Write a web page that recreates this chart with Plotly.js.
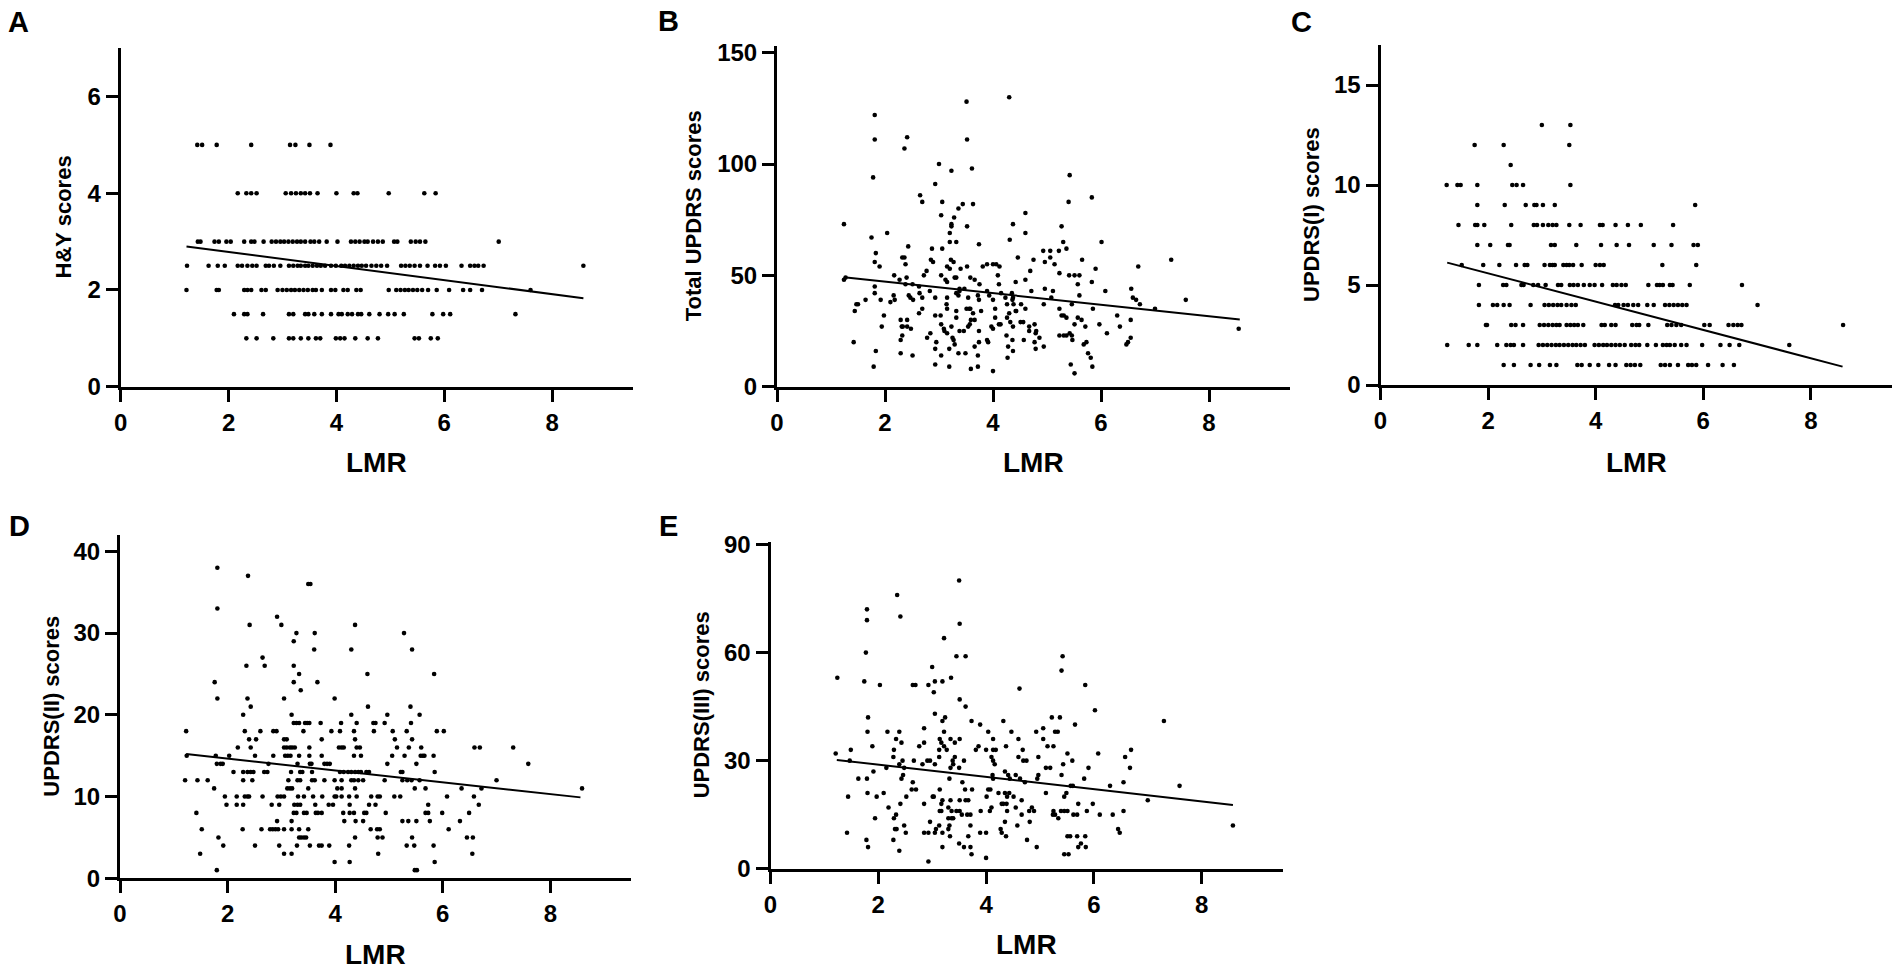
<!DOCTYPE html>
<html>
<head>
<meta charset="utf-8">
<script src="https://cdn.plot.ly/plotly-3.0.1.min.js"></script>
<style>
html,body{margin:0;padding:0;background:#fff;}
#chart{width:1902px;height:972px;}
</style>
</head>
<body>
<div id="chart"></div>
<script>
// ---------------- DATA ----------------
// Panel A: H&Y scores, rows of [score, [LMR values]]
const A_rows = [
  [5,   [1.42,1.51,1.78,2.42,3.14,3.24,3.50,3.89]],
  [4,   [2.17,2.33,2.42,2.52,3.06,3.16,3.25,3.34,3.42,3.51,3.65,4.00,4.32,4.39,4.97,5.63,5.84]],
  [3,   [1.43,1.48,1.74,1.82,1.96,2.04,2.29,2.42,2.48,2.65,2.80,2.88,2.96,3.03,3.11,3.19,3.27,3.34,3.42,3.52,3.59,3.68,3.82,4.02,4.27,4.35,4.43,4.52,4.58,4.68,4.77,4.86,5.07,5.13,5.38,5.47,5.55,5.65,7.01]],
  [2.5, [1.23,1.63,1.80,1.93,2.17,2.25,2.35,2.44,2.52,2.69,2.75,2.84,2.96,3.12,3.20,3.28,3.34,3.42,3.48,3.56,3.64,3.71,3.79,3.90,3.99,4.09,4.16,4.24,4.32,4.40,4.47,4.55,4.65,4.74,4.83,4.94,5.20,5.28,5.36,5.45,5.55,5.69,5.83,5.92,6.03,6.32,6.48,6.56,6.63,6.73,8.58]],
  [2,   [1.22,1.78,1.82,2.29,2.35,2.42,2.61,2.69,2.91,3.00,3.08,3.16,3.23,3.31,3.39,3.47,3.56,3.62,3.73,3.90,3.98,4.13,4.21,4.37,4.45,4.97,5.11,5.19,5.27,5.34,5.42,5.50,5.59,5.70,5.86,6.09,6.35,6.48,6.70,7.60]],
  [1.5, [2.10,2.29,2.35,2.64,3.12,3.20,3.42,3.48,3.59,3.73,3.90,4.04,4.10,4.21,4.29,4.40,4.46,4.61,4.80,4.96,5.08,5.25,5.78,5.98,6.11,7.32]],
  [1,   [2.33,2.52,2.83,3.12,3.20,3.34,3.48,3.62,3.70,3.99,4.07,4.15,4.35,4.58,4.77,5.45,5.53,5.75,5.88]]
];
const A_fit_x = [1.22, 8.58];
const A_fit_y = [2.90, 1.83];

// Panel B: Total UPDRS scores, [LMR, score] pairs
const B_pts = [
  [4.30,130],[3.51,128],[1.81,122],[1.81,111],[2.41,112],[2.36,107],[3.52,111],[3.00,100],[3.23,97],[3.61,98],
  [1.78,94],[5.42,95],[2.93,91],[5.83,85],[2.65,86],[2.69,83],[3.06,83],[5.40,83],[3.44,82],[3.63,82],
  [3.36,80],[3.28,76],[3.04,77],[4.60,78],[1.24,73],[3.23,73],[3.23,72],[3.52,72],[4.37,73],[5.27,72],
  [2.04,69],[3.20,69],[4.60,69],[1.75,67],[4.31,66],[3.20,65],[3.32,65],[2.43,63],[3.74,64],[5.30,65],
  [6.01,65],[5.36,62],[2.87,62],[3.06,62],[1.83,60],[2.32,58],[2.36,58],[2.85,57],[2.89,56],[3.22,57],
  [3.27,56],[1.81,56],[2.38,55],[1.90,54],[3.15,54],[3.20,53],[3.40,53],[3.52,54],[4.93,61],[5.06,61],
  [5.22,61],[4.96,56],[5.06,58],[5.14,55],[4.46,58],[4.75,57],[5.65,57],[3.81,54],[3.89,55],[4.00,55],
  [4.06,55],[4.12,54],[4.69,52],[5.90,53],[6.69,54],[7.30,57],[2.17,50],[2.40,49],[2.72,50],[2.77,52],
  [3.04,50],[3.12,48],[3.15,47],[3.29,49],[3.32,49],[3.58,49],[3.66,48],[4.09,50],[4.11,46],[5.23,51],
  [5.41,50],[5.51,50],[5.60,50],[1.24,48],[1.27,49],[2.27,48],[2.38,46],[2.51,46],[1.81,45],[2.63,45],
  [2.83,43],[3.38,44],[3.38,43],[3.47,44],[3.75,46],[4.42,47],[4.60,48],[4.71,43],[4.96,44],[5.11,43],
  [5.57,46],[5.83,47],[6.08,43],[6.56,44],[1.81,42],[1.64,39],[1.50,37],[1.47,37],[1.44,34],[1.92,39],
  [2.16,41],[2.18,39],[2.10,38],[2.44,41],[2.47,40],[2.52,39],[2.69,40],[2.64,42],[2.93,40],[3.15,40],
  [3.14,37],[3.15,35],[3.32,42],[3.36,41],[3.54,40],[3.51,35],[3.56,35],[3.58,35],[3.72,41],[3.74,39],
  [3.89,43],[3.93,41],[4.00,39],[4.04,35],[4.15,42],[4.23,40],[4.26,37],[4.35,42],[4.36,39],[4.38,37],
  [4.52,37],[4.60,35],[4.43,34],[4.37,40],[4.94,37],[5.08,40],[5.23,35],[5.46,37],[5.60,41],[5.85,35],
  [6.59,40],[6.65,39],[6.72,37],[7.00,35],[7.57,39],[8.55,26],[1.98,32],[1.94,27],[2.29,30],[2.31,27],
  [2.33,27],[2.29,21],[2.32,23],[2.29,15],[2.41,30],[2.41,27],[2.48,26],[2.51,14],[2.63,33],[2.69,35],
  [2.78,22],[2.84,24],[2.93,32],[2.93,17],[2.95,20],[2.93,10],[3.03,32],[3.04,28],[3.04,14],[3.09,26],
  [3.10,25],[3.15,24],[3.19,17],[3.19,9],[3.23,27],[3.25,22],[3.27,21],[3.29,19],[3.32,31],[3.32,34],
  [3.36,15],[3.38,25],[3.46,25],[3.49,15],[3.54,27],[3.57,28],[3.59,30],[3.59,8],[3.63,33],[3.66,30],
  [3.66,18],[3.72,14],[3.72,9],[3.74,25],[3.74,20],[3.78,34],[3.89,21],[3.91,20],[3.97,27],[4.00,26],
  [4.00,7],[4.04,31],[4.11,28],[4.14,28],[4.25,23],[4.26,31],[4.30,33],[4.28,18],[4.27,13],[4.32,29],
  [4.37,27],[4.36,21],[4.37,16],[4.42,34],[4.51,29],[4.56,29],[4.57,21],[4.67,25],[4.67,27],[4.77,28],
  [4.80,25],[4.79,24],[4.77,20],[4.79,17],[4.86,22],[4.94,18],[5.27,32],[5.31,32],[5.36,31],[5.23,23],
  [5.31,23],[5.36,23],[5.42,24],[5.46,23],[5.47,21],[5.51,28],[5.57,31],[5.64,30],[5.71,27],[5.68,19],
  [5.73,20],[5.76,15],[5.81,13],[5.44,10],[5.51,6],[5.84,9],[5.97,28],[6.11,24],[6.30,32],[6.35,27],
  [6.47,19],[6.50,20],[6.55,22],[6.55,30],[1.42,20],[1.83,16],[1.79,9]
];
const B_fit_x = [1.24, 8.57];
const B_fit_y = [49.1, 30.2];

// Panel C: UPDRS(I) scores, rows of [score, [LMR values]]
const C_rows = [
  [13, [3.00,3.53]],
  [12, [1.75,2.29,3.51]],
  [11, [2.42]],
  [10, [1.23,1.43,1.49,1.80,2.45,2.53,2.65,3.53]],
  [9,  [1.80,2.31,2.70,2.86,2.90,3.02,3.24,5.85]],
  [8,  [1.45,1.76,1.80,1.93,2.43,2.85,2.91,3.02,3.12,3.20,3.27,3.51,3.72,4.08,4.13,4.37,4.60,4.84,5.44]],
  [7,  [1.80,2.04,2.37,2.40,3.17,3.24,3.64,4.10,4.39,4.62,5.08,5.41,5.82,5.90]],
  [6,  [1.51,1.91,2.21,2.52,2.68,2.73,3.05,3.15,3.20,3.24,3.40,3.46,3.51,3.58,3.74,4.00,4.08,4.15,5.24,5.87]],
  [5,  [1.83,2.28,2.34,2.62,2.66,2.84,2.93,3.07,3.30,3.36,3.52,3.59,3.67,3.78,3.89,3.98,4.12,4.32,4.39,4.48,4.56,4.98,5.14,5.19,5.25,5.38,5.43,5.75,6.72]],
  [4,  [1.83,2.09,2.17,2.29,2.40,2.79,3.05,3.13,3.21,3.29,3.36,3.46,3.55,3.63,4.36,4.42,4.52,4.60,4.70,4.79,4.96,5.08,5.29,5.37,5.45,5.53,5.61,5.69,7.01]],
  [3,  [1.96,1.98,2.43,2.51,2.65,2.96,3.04,3.12,3.20,3.27,3.33,3.46,3.53,3.60,3.67,3.77,4.11,4.17,4.29,4.37,4.68,4.76,4.81,4.98,5.33,5.41,5.50,5.59,6.02,6.12,6.47,6.56,6.64,6.71,8.60]],
  [2,  [1.24,1.64,1.80,2.17,2.34,2.42,2.48,2.65,2.94,3.02,3.10,3.18,3.26,3.33,3.41,3.49,3.57,3.64,3.72,3.80,3.98,4.06,4.14,4.21,4.29,4.37,4.45,4.54,4.66,4.74,4.81,4.96,5.12,5.25,5.32,5.38,5.47,5.59,5.69,5.98,6.32,6.49,6.67,7.60]],
  [1,  [2.29,2.48,2.79,2.95,3.15,3.27,3.66,3.74,3.89,4.05,4.25,4.37,4.57,4.65,4.73,4.83,5.21,5.29,5.38,5.53,5.72,5.79,5.87,6.09,6.36,6.57]]
];
const C_fit_x = [1.24, 8.59];
const C_fit_y = [6.12, 0.92];

// Panel D: UPDRS(II) scores, rows of [score, [LMR values]]
const D_rows = [
  [38, [1.81]],
  [37, [2.38]],
  [36, [3.50,3.54]],
  [33, [1.81]],
  [32, [2.92]],
  [31, [2.41,3.00,4.37]],
  [30, [3.28,3.62,5.28]],
  [29, [3.23]],
  [28, [3.61,4.30,5.43]],
  [27, [2.65]],
  [26, [2.35,2.69,3.23]],
  [25, [3.33,4.60,5.84]],
  [24, [1.76,3.23,3.67]],
  [23, [3.36]],
  [22, [1.81,2.37,3.05,3.99]],
  [21, [2.43,4.61,5.40]],
  [20, [2.29,3.19,4.30,4.97,5.57]],
  [19, [3.23,3.28,3.33,3.44,3.48,3.52,3.73,4.11,4.40,4.71,4.75,4.92,5.41]],
  [18, [1.23,2.32,2.61,2.85,2.91,3.41,3.93,4.09,4.35,4.72,5.07,5.33,5.89,6.02]],
  [17, [2.40,2.53,3.05,3.10,3.75,4.37,5.11,5.43]],
  [16, [2.19,2.43,3.05,3.10,3.16,3.20,3.25,3.52,4.07,4.12,4.16,4.40,4.46,5.15,5.37,5.60,6.59,6.69,7.31]],
  [15, [1.24,1.78,2.03,2.51,2.85,3.07,3.12,3.17,3.33,3.52,3.75,4.35,4.48,5.06,5.29,5.59,5.63,5.66,5.83]],
  [14, [1.80,1.87,1.91,2.76,3.30,3.53,3.56,3.80,3.85,3.90,4.97,5.51,7.59]],
  [13, [2.11,2.29,2.37,2.43,2.48,2.68,2.74,3.18,3.35,3.39,3.57,4.09,4.16,4.24,4.30,4.37,4.43,4.48,4.58,4.63,5.22,5.25,5.85]],
  [12, [1.21,1.44,1.63,2.29,2.46,3.13,3.30,3.35,3.57,3.62,3.80,3.99,4.12,4.30,4.35,4.43,4.52,4.92,5.25,5.34,5.42,5.57,7.00]],
  [11, [1.75,3.11,3.16,3.20,3.50,4.04,4.12,4.37,5.48,5.68,6.35,6.72,8.59]],
  [10, [1.95,2.17,2.32,2.37,2.40,2.65,2.93,2.99,3.05,3.31,3.42,3.59,3.76,3.99,4.02,4.12,4.26,4.40,4.67,4.79,4.83,5.10,5.21,6.08,6.58]],
  [9,  [1.98,2.17,2.29,2.82,2.96,3.24,3.30,3.35,3.63,3.88,3.96,4.27,4.63,4.75,5.73,6.67]],
  [8,  [1.42,3.23,3.28,3.42,3.47,3.64,3.68,3.75,4.15,4.27,4.35,4.54,4.58,4.94,5.68,5.73,5.99,6.49]],
  [7,  [2.92,3.19,4.17,4.38,4.52,5.25,5.36,5.51,5.76,6.32]],
  [6,  [1.52,2.28,2.63,2.79,2.84,2.89,2.94,3.05,3.19,3.33,3.50,4.66,4.78,4.83,6.11]],
  [5,  [1.83,3.33,3.37,3.42,3.46,4.37,4.79,4.88,5.43,6.45,6.56]],
  [4,  [1.92,2.51,2.96,3.29,3.53,3.70,3.75,3.89,4.26,5.33,5.47,5.83]],
  [3,  [1.49,3.05,3.19,4.80,6.55]],
  [2,  [3.99,4.27,5.85]],
  [1,  [1.80,5.48,5.52]]
];
const D_fit_x = [1.23, 8.56];
const D_fit_y = [15.2, 9.9];

// Panel E: UPDRS(III) scores, [LMR, score] pairs
const E_pts = [
  [3.50,80],[2.35,76],[1.79,72],[1.79,69],[2.41,70],[3.51,68],[3.22,64],[1.77,60],[3.45,59],[3.62,59],
  [5.42,59],[5.40,55],[3.00,56],[1.24,53],[3.35,53],[1.74,52],[2.03,51],[2.64,51],[2.69,51],[2.93,51],
  [3.05,52],[3.19,52],[3.03,49],[5.84,51],[4.62,50],[3.51,47],[3.62,45],[6.02,44],[3.05,43],[1.81,42],
  [3.19,41],[3.24,42],[3.73,41],[3.89,40],[4.32,41],[5.22,42],[5.37,42],[7.30,41],[5.65,40],[5.06,39],
  [4.93,38],[5.28,38],[5.33,38],[2.17,38],[2.39,38],[1.80,38],[3.22,38],[4.04,38],[4.47,38],[2.85,39],
  [3.14,36],[3.17,35],[3.22,34],[3.34,36],[3.51,36],[4.13,36],[4.60,36],[2.33,36],[2.43,35],[5.06,36],
  [1.89,34],[2.76,34],[2.85,35],[3.42,35],[3.81,33],[3.86,34],[4.37,34],[5.14,34],[5.25,34],[1.21,32],
  [1.49,33],[2.29,33],[3.13,33],[3.27,33],[4.00,33],[4.13,33],[4.18,33],[4.68,33],[6.08,32],[6.69,33],
  [5.51,32],[2.28,31],[2.45,30],[2.66,30],[2.82,29],[2.91,30],[2.96,30],[3.13,31],[3.38,30],[3.42,31],
  [3.59,30],[4.10,31],[4.13,30],[4.60,31],[4.69,30],[4.75,30],[4.97,31],[5.60,30],[6.58,31],[1.47,30],
  [2.15,28],[2.39,29],[2.48,28],[3.05,29],[3.34,28],[3.39,29],[3.50,28],[4.16,29],[4.95,25],[4.97,26],
  [5.11,28],[5.19,28],[5.43,29],[5.90,28],[6.67,28],[1.91,27],[1.63,25],[1.79,25],[2.43,25],[2.46,26],
  [2.64,24],[3.14,22],[3.32,25],[3.56,24],[4.12,26],[4.13,25],[4.35,27],[4.41,26],[4.44,25],[4.55,26],
  [4.63,25],[4.72,24],[5.40,26],[5.57,23],[5.61,23],[5.82,25],[6.30,23],[6.55,24],[7.00,19],[7.59,23],
  [8.58,12],[1.44,20],[1.80,21],[1.97,20],[2.10,21],[2.52,20],[2.62,22],[2.70,22],[3.01,20],[3.03,20],
  [3.17,18],[3.19,19],[3.34,19],[3.51,19],[3.61,22],[3.62,19],[3.67,19],[3.74,22],[4.01,20],[4.04,22],
  [4.08,22],[4.23,21],[4.35,21],[4.39,20],[4.43,21],[4.51,20],[4.66,19],[5.11,21],[5.45,20],[5.49,21],
  [5.71,18],[5.98,18],[2.19,17],[2.41,18],[2.85,18],[3.14,16],[3.17,16],[3.30,17],[3.36,16],[3.45,16],
  [3.51,16],[3.55,15],[3.65,15],[3.71,15],[3.90,16],[4.07,16],[4.10,17],[4.29,18],[4.32,18],[4.38,18],
  [4.39,16],[4.55,17],[4.66,15],[4.80,16],[4.85,17],[4.89,16],[5.25,16],[5.24,15],[5.28,15],[5.34,14],
  [5.39,16],[5.45,16],[5.51,16],[5.62,15],[5.69,15],[5.87,16],[6.11,15],[6.35,15],[6.55,16],[1.94,14],
  [2.29,14],[2.33,15],[1.42,10],[2.31,11],[2.34,11],[2.48,12],[2.51,10],[2.85,10],[2.96,13],[2.93,10],
  [3.07,11],[3.05,10],[3.13,12],[3.19,10],[3.30,14],[3.32,12],[3.30,11],[3.33,9],[3.36,14],[3.39,14],
  [3.67,9],[3.71,12],[3.89,10],[4.00,10],[4.35,13],[4.27,11],[4.29,10],[4.37,9],[4.58,12],[4.81,13],
  [6.45,11],[6.48,10],[1.78,8],[1.81,6],[2.28,8],[2.39,5],[3.19,6],[3.50,7],[3.59,6],[3.71,6],
  [3.73,4],[4.00,3],[2.93,2],[4.76,8],[4.94,6],[5.51,9],[5.56,9],[5.69,9],[5.84,9],[5.71,6],
  [5.76,7],[5.85,6],[5.45,4],[5.53,4]
];
const E_fit_x = [1.23, 8.58];
const E_fit_y = [30.2, 17.7];

// Axis labels and ticks
const panelLetters = ['A','B','C','D','E'];
const yTitles = ['H&Y scores','Total UPDRS scores','UPDRS(I) scores','UPDRS(II) scores','UPDRS(III) scores'];
const xTitle = 'LMR';
const xTicks = [0,2,4,6,8];
const yTicksA = [0,2,4,6];
const yTicksB = [0,50,100,150];
const yTicksC = [0,5,10,15];
const yTicksD = [0,10,20,30,40];
const yTicksE = [0,30,60,90];

// ---------------- BUILD ----------------
function fromRows(rows){
  const x=[], y=[];
  rows.forEach(r => r[1].forEach(v => { x.push(v); y.push(r[0]); }));
  return {x, y};
}
function fromPairs(p){ return {x:p.map(d=>d[0]), y:p.map(d=>d[1])}; }

const sets = [fromRows(A_rows), fromPairs(B_pts), fromRows(C_rows), fromRows(D_rows), fromPairs(E_pts)];
const fits = [[A_fit_x,A_fit_y],[B_fit_x,B_fit_y],[C_fit_x,C_fit_y],[D_fit_x,D_fit_y],[E_fit_x,E_fit_y]];
const yTicks = [yTicksA,yTicksB,yTicksC,yTicksD,yTicksE];

// layout geometry (pixels in the 1902x972 page)
const W = 1902, H = 972;
const boxes = [
  {x0:120.7, x1:633,   y0:386.7, y1:48.2,  yr:[0,7]},
  {x0:777,   x1:1290,  y0:386.7, y1:46,    yr:[0,153]},
  {x0:1380.5,x1:1891.5,y0:385,   y1:45,    yr:[0,17]},
  {x0:120,   x1:631,   y0:878.3, y1:535,   yr:[0,42]},
  {x0:770.5, x1:1282.5,y0:868.7, y1:542,   yr:[0,90.7]}
];
const letterPos = [[18,22],[668,21],[1301,22],[19,526],[668,526]];
const yTitlePos = [63,693,1311,52,701];
const xTitleY = [463,463,463,954,944];

const FONT = 'Liberation Sans, Arial, Helvetica, sans-serif';
const traces = [];
const layout = {
  width: W, height: H,
  margin: {l:0, r:0, t:0, b:0},
  paper_bgcolor: '#fff', plot_bgcolor: '#fff',
  showlegend: false,
  annotations: []
};

sets.forEach((s, i) => {
  const n = i === 0 ? '' : String(i+1);
  const b = boxes[i];
  traces.push({
    type:'scatter', mode:'markers', x:s.x, y:s.y,
    xaxis:'x'+n, yaxis:'y'+n,
    marker:{size:4.6, color:'#000'}, hoverinfo:'x+y', cliponaxis:false
  });
  traces.push({
    type:'scatter', mode:'lines', x:fits[i][0], y:fits[i][1],
    xaxis:'x'+n, yaxis:'y'+n,
    line:{color:'#000', width:2}, hoverinfo:'skip'
  });
  const common = {
    showline:true, linecolor:'#000', linewidth:3,
    ticks:'outside', ticklen:12, tickwidth:3, tickcolor:'#000',
    showgrid:false, zeroline:false, fixedrange:true,
    tickfont:{family:FONT, size:24, color:'#000', weight:'bold'}
  };
  layout['xaxis'+n] = Object.assign({}, common, {
    domain:[b.x0/W, b.x1/W], range:[0,9.5], tickmode:'array', tickvals:xTicks,
    anchor:'y'+n
  });
  layout['yaxis'+n] = Object.assign({}, common, {
    domain:[1-b.y0/H, 1-b.y1/H], range:b.yr, tickmode:'array', tickvals:yTicks[i],
    anchor:'x'+n
  });
  // panel letter
  layout.annotations.push({
    xref:'paper', yref:'paper', x:letterPos[i][0]/W, y:1-letterPos[i][1]/H,
    xanchor:'center', yanchor:'middle', showarrow:false, text:panelLetters[i],
    font:{family:FONT, size:29, color:'#000', weight:'bold'}
  });
  // y title
  layout.annotations.push({
    xref:'paper', yref:'paper', x:yTitlePos[i]/W, y:1-((b.y0+b.y1)/2)/H,
    xanchor:'center', yanchor:'middle', showarrow:false, text:yTitles[i], textangle:-90,
    font:{family:FONT, size:22, color:'#000', weight:'bold'}
  });
  // x title
  layout.annotations.push({
    xref:'paper', yref:'paper', x:((b.x0+b.x1)/2)/W, y:1-xTitleY[i]/H,
    xanchor:'center', yanchor:'middle', showarrow:false, text:xTitle,
    font:{family:FONT, size:28, color:'#000', weight:'bold'}
  });
});

Plotly.newPlot('chart', traces, layout, {displayModeBar:false, staticPlot:true});
</script>
</body>
</html>
